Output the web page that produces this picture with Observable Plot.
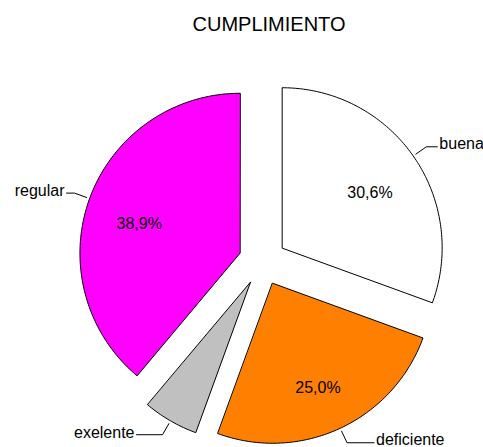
<!DOCTYPE html>
<html><head><meta charset="utf-8">
<script src="https://cdn.jsdelivr.net/npm/d3@7"></script>
<script src="https://cdn.jsdelivr.net/npm/@observablehq/plot@0.6"></script>
<style>body{margin:0;background:#fff;}</style>
</head><body><div id="chart"></div>
<script>
// ---- data ----
const title = "CUMPLIMIENTO";
const categories = ["buena", "deficiente", "exelente", "regular"];
const counts = [11, 9, 2, 14];
const percentLabels = ["30,6%", "25,0%", "", "38,9%"];
const colors = ["#FFFFFF", "#FF8000", "#C0C0C0", "#FF00FF"];

// ---- layout ----
const W = 483, H = 447;
const R = 160;            // pixels per unit radius
const cx = 262, cy = 261; // pie centre in pixels
const explode = 0.15;
const leaderLen = [11, 27, 26, 8]; // horizontal part of leader, px

const arcs = d3.pie().sort(null).startAngle(0).endAngle(2 * Math.PI)(counts);
const pt = (a, r, ox = 0, oy = 0) => ({x: ox + r * Math.sin(a), y: oy + r * Math.cos(a)});

const polys = [], leaders = [], outer = [], inner = [];
arcs.forEach((d, i) => {
  const cat = categories[i];
  const mid = (d.startAngle + d.endAngle) / 2;
  const o = pt(mid, explode);
  polys.push({cat, x: o.x, y: o.y});
  const n = Math.max(8, Math.ceil((d.endAngle - d.startAngle) * 60));
  for (let k = 0; k <= n; k++) {
    const a = d.startAngle + (d.endAngle - d.startAngle) * k / n;
    const p = pt(a, 1, o.x, o.y);
    polys.push({cat, x: p.x, y: p.y});
  }
  const side = Math.sin(mid) >= 0 ? 1 : -1;
  const p1 = pt(mid, 1.02, o.x, o.y);
  const p2 = pt(mid, 1.1, o.x, o.y);
  const p3 = {x: p2.x + side * leaderLen[i] / R, y: p2.y};
  leaders.push({cat, ...p1}, {cat, ...p2}, {cat, ...p3});
  outer.push({cat, x: p3.x + side * 2 / R, y: p3.y, anchor: side > 0 ? "start" : "end"});
  const c = pt(mid, 0.67, o.x, o.y);
  inner.push({label: percentLabels[i], x: c.x, y: c.y});
});

const chart = Plot.plot({
  width: W, height: H, margin: 0,
  style: {fontFamily: "'Liberation Sans', Arial, sans-serif", fontSize: "16px", background: "#fff", color: "#000"},
  x: {domain: [-cx / R, (W - cx) / R], axis: null},
  y: {domain: [(cy - H) / R, cy / R], axis: null},
  color: {domain: categories, range: colors},
  marks: [
    Plot.line(polys, {x: "x", y: "y", z: "cat", fill: "cat", stroke: "black", strokeWidth: 1, curve: "linear-closed"}),
    Plot.line(leaders, {x: "x", y: "y", z: "cat", stroke: "black", strokeWidth: 1}),
    Plot.text(outer.filter(d => d.anchor === "start"), {x: "x", y: "y", text: "cat", textAnchor: "start", fill: "black", fontSize: 16, dy: -3}),
    Plot.text(outer.filter(d => d.anchor === "end"), {x: "x", y: "y", text: "cat", textAnchor: "end", fill: "black", fontSize: 16, dy: -2}),
    Plot.text(inner, {x: "x", y: "y", text: "label", fill: "black", fontSize: 16, dy: 7}),
    Plot.text([title], {frameAnchor: "top", dy: 16, dx: 27, fontSize: 20, fill: "black"})
  ]
});
document.getElementById("chart").appendChild(chart);
</script>
</body></html>
